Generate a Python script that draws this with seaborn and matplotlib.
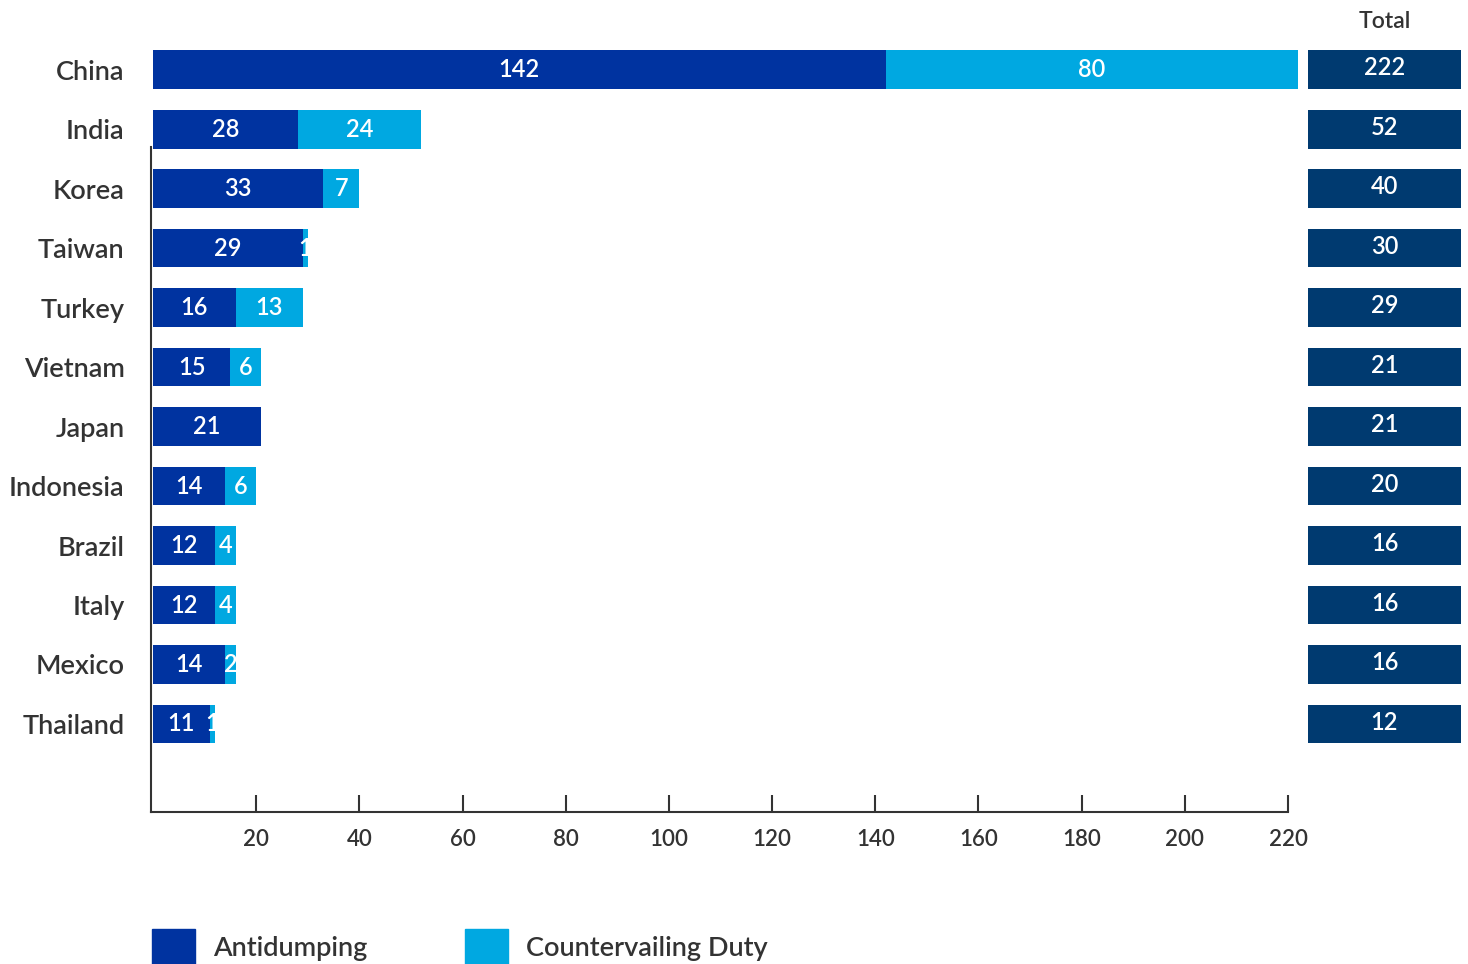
import numpy as np
import pandas as pd
import seaborn as sns
import matplotlib.pyplot as plt
from matplotlib.patches import Patch

countries = ['China', 'India', 'Korea', 'Taiwan', 'Turkey', 'Vietnam', 'Japan',
             'Indonesia', 'Brazil', 'Italy', 'Mexico', 'Thailand']
antidumping = [142, 28, 33, 29, 16, 15, 21, 14, 12, 12, 14, 11]
countervailing = [80, 24, 7, 1, 13, 6, 0, 6, 4, 4, 2, 1]
xticks = [20, 40, 60, 80, 100, 120, 140, 160, 180, 200, 220]

ad_col = '#0033a0'
cvd_col = '#00a8e1'
tot_col = '#003a70'
txt_col = '#333333'

df = pd.DataFrame({'country': countries, 'ad': antidumping, 'cvd': countervailing})
df['total'] = df['ad'] + df['cvd']
df['one'] = 1

sns.set_style('white')
plt.rcParams['font.family'] = ['Lato', 'DejaVu Sans']
fw = 'semibold'

W, H = 1468, 964
fig = plt.figure(figsize=(W / 100, H / 100), dpi=100)
top_px, bot_px = 40, 812
ax = fig.add_axes([151 / W, 1 - bot_px / H, (1288 - 151) / W, (bot_px - top_px) / H])
ax2 = fig.add_axes([1308 / W, 1 - bot_px / H, 153 / W, (bot_px - top_px) / H], sharey=ax)

# stacked: total (light) underneath, antidumping on top
sns.barplot(data=df, x='total', y='country', color=cvd_col, width=0.65,
            saturation=1, ax=ax, orient='h')
sns.barplot(data=df, x='ad', y='country', color=ad_col, width=0.65,
            saturation=1, ax=ax, orient='h')
for p in ax.patches:
    p.set_clip_on(False)
    p.set_linewidth(0)

# totals column
sns.barplot(data=df, x='one', y='country', color=tot_col, width=0.65,
            saturation=1, ax=ax2, orient='h')
for p in ax2.patches:
    p.set_linewidth(0)
ax2.set_xlim(0, 1)
ax2.axis('off')

ax.set_xlim(-0.4, 220)
ax.set_ylim(12.48, -0.5)
ax.set_xticks(xticks)
ax.set_xticklabels([str(t) for t in xticks])
ax.set_xlabel('')
ax.set_ylabel('')
ax.tick_params(axis='x', bottom=True, direction='in', length=12.5, width=1.5,
               color=txt_col, pad=12.5, labelsize=16, labelcolor=txt_col)
ax.tick_params(axis='y', left=False, length=0, pad=19, labelsize=19.5, labelcolor=txt_col)
for lab in ax.get_xticklabels() + ax.get_yticklabels():
    lab.set_fontweight(fw)
for s in ['top', 'right']:
    ax.spines[s].set_visible(False)
ax.spines['left'].set_bounds(1.3, 12.48)
for s in ['left', 'bottom']:
    ax.spines[s].set_color(txt_col)
    ax.spines[s].set_linewidth(1.5)

for i, r in df.iterrows():
    ax.text(r['ad'] / 2, i, str(r['ad']), color='white', ha='center', va='center',
            fontsize=17, fontweight=fw)
    if r['cvd'] > 0:
        ax.text(r['ad'] + r['cvd'] / 2, i, str(r['cvd']), color='white',
                ha='center', va='center', fontsize=17, fontweight=fw)

for i, r in df.iterrows():
    ax2.text(0.5, i - 0.03, str(r['total']), color='white', ha='center', va='center',
             fontsize=17, fontweight=fw)
fig.text(1385 / W, 1 - 22 / H, 'Total', ha='center', va='center', fontsize=16.5,
         color=txt_col, fontweight=fw)

handles = [Patch(color=ad_col), Patch(color=cvd_col)]
fig.legend(handles, ['Antidumping', 'Countervailing Duty'], loc='lower left',
           bbox_to_anchor=(152 / W, 0), ncol=2, frameon=False,
           prop={'size': 19.5, 'weight': fw},
           handlelength=1.59, handleheight=1.59, handletextpad=0.66,
           columnspacing=3.6, borderpad=0, borderaxespad=0, labelcolor=txt_col)

fig.savefig('out.png', dpi=100)
